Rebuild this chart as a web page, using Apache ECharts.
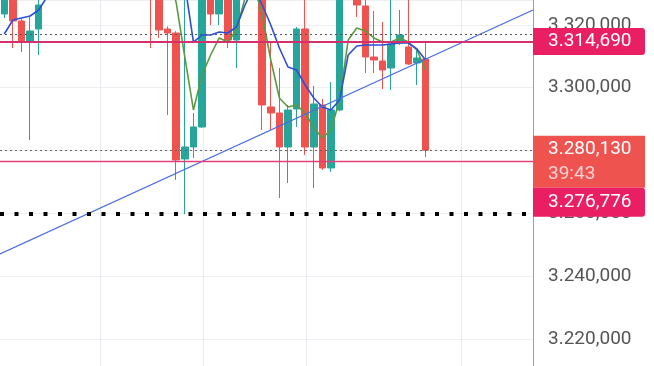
<!DOCTYPE html>
<html><head><meta charset="utf-8">
<script src="https://cdn.jsdelivr.net/npm/echarts@6/dist/echarts.min.js"></script>
<style>html,body{margin:0;padding:0;background:#fff}#c{width:654px;height:366px}</style>
</head><body><div id="c"></div>
<script>
const categories = ['1','2','3','4','5','6','7','8','9','10','11','12','13','14','15','16','17','18','19','20',
  '21','22','23','24','25','26','27','28','29','30','31','32','33','34','35','36','37','38','39','40',
  '41','42','43','44','45','46','47','48','49','50','51','52','53','54','55','56','57','58','59','60','61','62'];
const opens  = [3323450,3331000,3321220,3314540,3318680,3332000,3338000,3345000,3341000,3352000,
  3348000,3356000,3362000,3355000,3350000,3344000,3346000,3338000,3333000,3318680,
  3317400,3277340,3281150,3287510,3329500,3323450,3331000,3315180,3331000,3338000,
  3334000,3293880,3291970,3281150,3293240,3318680,3281150,3294510,3274480,3292920,
  3331000,3335000,3326000,3309770,3308500,3306280,3314230,3312950,3307870,3309140];
const closes = [3330000,3321220,3314540,3318040,3326310,3338000,3345000,3341000,3352000,3348000,
  3356000,3362000,3355000,3350000,3344000,3346000,3338000,3333000,3318360,3317400,
  3277020,3281150,3287510,3329000,3323450,3330500,3315180,3331500,3338000,3334000,
  3294510,3291970,3281150,3292920,3318680,3281150,3294830,3274480,3292920,3331000,
  3336000,3326310,3309770,3308820,3305640,3313910,3316770,3307550,3309460,3280130];
const lows   = [3322180,3312640,3311360,3283380,3310410,3329500,3336000,3338000,3339000,3344000,
  3346000,3353000,3351000,3347000,3341000,3340000,3335000,3312640,3315820,3291330,
  3270660,3259830,3277660,3287200,3319950,3319950,3312640,3306280,3329000,3330000,
  3286560,3286560,3264920,3269690,3287510,3278610,3268100,3273860,3273200,3292500,
  3329500,3322490,3304690,3304690,3299600,3299280,3313590,3307230,3300870,3277970];
const highs  = [3333000,3334000,3322000,3322490,3330000,3341000,3348000,3350000,3356000,3358000,
  3359000,3365000,3364000,3358000,3353000,3349000,3348000,3342000,3336000,3319500,
  3318000,3330000,3291970,3331000,3332000,3333000,3333500,3334000,3341000,3342000,
  3337000,3314540,3306280,3294510,3319320,3329000,3300550,3296420,3301820,3334000,
  3339000,3337000,3329000,3324400,3320900,3328500,3324720,3328500,3312640,3314230];
const blueMA = [3317090,3321540,3322180,3322810,3324720,3329000,3333000,3337000,3340000,3343000,
  3346000,3348000,3350000,3351000,3351000,3350000,3348000,3345000,3342000,3340000,
  3338000,3333000,3314540,3316770,3316770,3317720,3317400,3319320,3326310,3332000,
  3326310,3319950,3312640,3306600,3305640,3300870,3296740,3293880,3292920,3296100,
  3310410,3313270,3313590,3313590,3313590,3313910,3314230,3314230,3312320,3308820];
const greenMA = [3334000,3336000,3338000,3340000,3342000,3345000,3348000,3351000,3353000,3355000,
  3357000,3358000,3358000,3357000,3355000,3352000,3349000,3346000,3343000,3338000,
  3326950,3309770,3292920,3304050,3310410,3315820,3314540,3318360,3328500,3333000,
  3323130,3308820,3296740,3293880,3294510,3291970,3287200,3284020,3286560,3296100,
  3315180,3319000,3318040,3315820,3314540,3314540,3315820,3314540,3312000,3305640];
const trendX = [-0.5, 61.5];
const trendY = [3247130, 3324720];
const vGridX = [11.13, 23.11, 35.09, 53.12];
const yMin = 3211500, yMax = 3327900;
const highDotted = 3316900;
const resistance = 3314690;
const lastPrice = 3280130;
const countdown = '39:43';
const support = 3276776;
const blackLevel = 3260000;

function fmt(v){
  const s = String(Math.round(v));
  return s.slice(0, -6) + '.' + s.slice(-6, -3) + ',' + s.slice(-3);
}

const candleData = opens.map((o, i) => [o, closes[i], lows[i], highs[i]]);
const FONT = 'Roboto';

const chart = echarts.init(document.getElementById('c'), null, {renderer: 'canvas'});
chart.setOption({
  animation: false,
  backgroundColor: '#fff',
  grid: {left: 0, right: 121, top: 0, bottom: 0},
  xAxis: [
    {type: 'category', data: categories, boundaryGap: true, show: false},
    {type: 'value', min: trendX[0], max: trendX[1], show: false}
  ],
  yAxis: {
    type: 'value', position: 'right', min: yMin, max: yMax, splitNumber: 5, scale: true,
    axisLine: {show: true, onZero: false, lineStyle: {color: '#a0a0a0', width: 1}},
    axisTick: {show: false},
    splitLine: {show: true, lineStyle: {color: '#edf0f3', width: 1}},
    axisLabel: {margin: 15, fontSize: 19, color: '#555', fontFamily: FONT,
      showMinLabel: false, showMaxLabel: false, formatter: fmt}
  },
  series: [
    {
      type: 'candlestick', xAxisIndex: 0, data: candleData, barWidth: 7,
      itemStyle: {color: '#26a69a', color0: '#ef5350', borderColor: '#26a69a', borderColor0: '#ef5350', borderWidth: 1}
    },
    {
      type: 'line', xAxisIndex: 0, data: greenMA, showSymbol: false, symbol: 'none',
      lineStyle: {color: '#5b9a3e', width: 1.6}, z: 3
    },
    {
      type: 'line', xAxisIndex: 0, data: blueMA, showSymbol: false, symbol: 'none',
      lineStyle: {color: '#2d4fd6', width: 1.6}, z: 3
    },
    {
      type: 'line', xAxisIndex: 1, data: [[trendX[0], trendY[0]], [trendX[1], trendY[1]]],
      showSymbol: false, symbol: 'none', lineStyle: {color: '#4a6be3', width: 1.2}, z: 4,
      markLine: {
        silent: true, symbol: 'none', animation: false, z: 0,
        label: {show: false},
        lineStyle: {color: '#e8ecf1', width: 1, type: 'solid'},
        data: vGridX.map(x => ({xAxis: x}))
      }
    },
    {
      type: 'line', xAxisIndex: 1, data: [], clip: false, z: 5,
      markLine: {
        silent: true, symbol: 'none', animation: false,
        data: [
          {yAxis: highDotted, lineStyle: {color: '#555', width: 1, type: [2, 3]}, label: {show: false}},
          {yAxis: blackLevel, lineStyle: {color: '#000', width: 4, type: [4, 10.5]}, label: {show: false}},
          {yAxis: lastPrice, lineStyle: {color: '#666', width: 1, type: [2, 3]},
            label: {show: true, position: 'end', distance: 0, offset: [0, 11.5],
              formatter: '{a|' + fmt(lastPrice) + '}\n{b|' + countdown + '}',
              backgroundColor: '#ef5350', padding: [1, 8, 1, 15], width: 89,
              rich: {a: {fontSize: 19, lineHeight: 25, color: '#fff', fontFamily: FONT},
                     b: {fontSize: 19, lineHeight: 25, color: '#ffd0d3', fontFamily: FONT}}}},
          {yAxis: support, lineStyle: {color: '#e0407a', width: 1.3, type: 'solid', opacity: 1},
            label: {show: true, position: 'end', distance: 0, offset: [0, 41.5],
              formatter: fmt(support), color: '#fff', fontSize: 19, fontFamily: FONT, lineHeight: 21,
              backgroundColor: '#e91e63', padding: [4, 8, 4, 15], width: 89, borderRadius: [0, 3, 3, 0]}},
          {yAxis: resistance, lineStyle: {color: '#d4306e', width: 1.8, type: 'solid'},
            label: {show: true, position: 'end', distance: 0,
              formatter: fmt(resistance), color: '#fff', fontSize: 19, fontFamily: FONT, lineHeight: 19,
              backgroundColor: '#e91e63', padding: [4, 8, 4, 15], width: 89, borderRadius: [0, 3, 3, 0]}}
        ]
      }
    }
  ]
});
</script></body></html>
